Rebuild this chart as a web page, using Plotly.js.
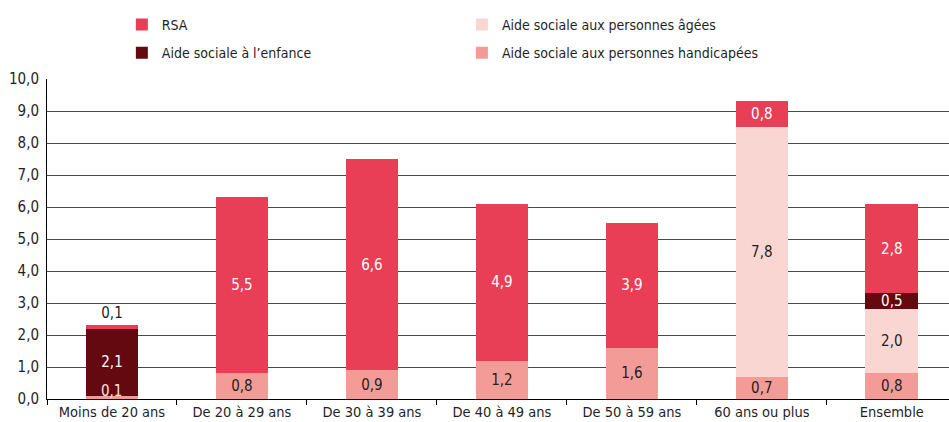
<!DOCTYPE html>
<html>
<head>
<meta charset="utf-8">
<script src="https://cdn.plot.ly/plotly-3.0.1.min.js"></script>
<style>html,body{margin:0;padding:0;background:#fff;}#chart{width:949px;height:422px;}</style>
</head>
<body>
<div id="chart"></div>
<script>
const categories = ["Moins de 20 ans", "De 20 à 29 ans", "De 30 à 39 ans", "De 40 à 49 ans", "De 50 à 59 ans", "60 ans ou plus", "Ensemble"];
const handicap = [0.1, 0.8, 0.9, 1.2, 1.6, 0.7, 0.8];
const agees = [null, null, null, null, null, 7.8, 2.0];
const enfance = [2.1, null, null, null, null, null, 0.5];
const rsa = [0.1, 5.5, 6.6, 4.9, 3.9, 0.8, 2.8];
const yTicks = [0, 1, 2, 3, 4, 5, 6, 7, 8, 9, 10];

const FONT = '"Liberation Sans Narrow", "DejaVu Sans Condensed", "Roboto Condensed", "Liberation Sans", sans-serif';
const DARK = '#1f1f1f';

function common(name, y, color, legend, textColor, group, rank) {
  return {
    type: 'bar', name: name, x: categories, y: y,
    marker: {color: color, line: {width: 0}},
    texttemplate: '%{y:.1f}', textangle: 0, constraintext: 'none',
    insidetextanchor: 'middle',
    textfont: {family: FONT, size: 15, color: textColor},
    legend: legend, legendgroup: group, legendrank: rank, hoverinfo: 'none'
  };
}

const tHand = common('Aide sociale aux personnes handicapées', handicap, '#F39B97', 'legend2', DARK, 'd', 2);
tHand.textposition = handicap.map((v, i) => i === 0 ? 'none' : 'inside');
const tAgees = common('Aide sociale aux personnes âgées', agees, '#FAD6D3', 'legend2', DARK, 'c', 1);
tAgees.textposition = 'inside';
const tEnf = common('Aide sociale à l’enfance', enfance, '#650910', 'legend', '#ffffff', 'b', 2);
tEnf.textposition = 'inside';
const tRsa = common('RSA', rsa, '#E83F57', 'legend', rsa.map((v, i) => i === 0 ? DARK : '#ffffff'), 'a', 1);
tRsa.textposition = rsa.map((v, i) => i === 0 ? 'outside' : 'inside');
tRsa.cliponaxis = false;

const fmt = v => v.toFixed(1).replace('.', ',');

const legendBase = {
  orientation: 'v', xref: 'paper', yref: 'paper',
  y: 1.219, xanchor: 'left', yanchor: 'top',
  traceorder: 'grouped', tracegroupgap: 7,
  font: {family: FONT, size: 14, color: DARK}, bgcolor: 'rgba(0,0,0,0)'
};

const layout = {
  width: 949, height: 422,
  margin: {l: 47, r: 0, t: 79, b: 23, autoexpand: false},
  paper_bgcolor: '#ffffff', plot_bgcolor: '#ffffff',
  separators: ', ',
  font: {family: FONT, size: 15, color: DARK},
  barmode: 'stack', bargap: 0.595,
  xaxis: {
    type: 'category', range: [-0.5, 6.44],
    showline: true, linecolor: '#000', linewidth: 1,
    ticks: 'outside', tickson: 'boundaries', ticklen: 5, tickcolor: '#000',
    showgrid: false, tickangle: 0, automargin: false,
    tickfont: {family: FONT, size: 14.5, color: DARK}
  },
  yaxis: {
    range: [0, 10], tickvals: yTicks, tickformat: '.1f',
    showline: true, linecolor: '#000', linewidth: 1,
    showgrid: true, gridcolor: '#4a4a4a', gridwidth: 1,
    zeroline: false, ticks: '', ticklabelstandoff: 4, automargin: false,
    tickfont: {family: FONT, size: 15, color: DARK}
  },
  legend: Object.assign({}, legendBase, {x: 0.083}),
  legend2: Object.assign({}, legendBase, {x: 0.460}),
  annotations: [{
    x: categories[0], y: 0, xref: 'x', yref: 'y',
    yanchor: 'bottom', showarrow: false, yshift: -3,
    text: fmt(handicap[0]),
    font: {family: FONT, size: 15, color: '#fbe3e3'}
  }]
};

Plotly.newPlot('chart', [tHand, tAgees, tEnf, tRsa], layout, {displayModeBar: false, staticPlot: true});
</script>
</body>
</html>
